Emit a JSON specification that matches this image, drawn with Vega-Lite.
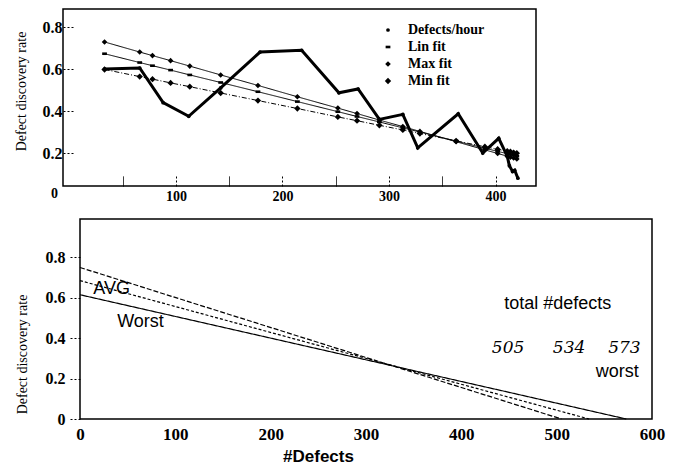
{
  "$schema": "https://vega.github.io/schema/vega-lite/v6.json",
  "padding": {"left": 13, "top": 8, "right": 5, "bottom": 0},
  "spacing": 14,
  "resolve": {"scale": {"strokeDash": "independent", "x": "independent", "y": "independent"}},
  "config": {
    "view": {"stroke": "black", "strokeWidth": 1.5},
    "font": "Liberation Serif",
    "axis": {"domain": false, "grid": false, "labelFlush": false, "labelFont": "Liberation Serif", "titleFont": "Liberation Serif", "labelColor": "black", "titleColor": "black", "tickColor": "black", "labelFontWeight": "bold", "titleFontWeight": "normal"}
  },
  "datasets": {
    "top": [
      {"series": "Defects/hour", "x": 33, "y": 0.600},
      {"series": "Defects/hour", "x": 66, "y": 0.605},
      {"series": "Defects/hour", "x": 88, "y": 0.440},
      {"series": "Defects/hour", "x": 112, "y": 0.375},
      {"series": "Defects/hour", "x": 142, "y": 0.510},
      {"series": "Defects/hour", "x": 179, "y": 0.681},
      {"series": "Defects/hour", "x": 218, "y": 0.689},
      {"series": "Defects/hour", "x": 253, "y": 0.487},
      {"series": "Defects/hour", "x": 271, "y": 0.505},
      {"series": "Defects/hour", "x": 291, "y": 0.360},
      {"series": "Defects/hour", "x": 313, "y": 0.384},
      {"series": "Defects/hour", "x": 327, "y": 0.225},
      {"series": "Defects/hour", "x": 365, "y": 0.387},
      {"series": "Defects/hour", "x": 388, "y": 0.200},
      {"series": "Defects/hour", "x": 403, "y": 0.270},
      {"series": "Defects/hour", "x": 411, "y": 0.185},
      {"series": "Defects/hour", "x": 413, "y": 0.140},
      {"series": "Defects/hour", "x": 416, "y": 0.112},
      {"series": "Defects/hour", "x": 418, "y": 0.118},
      {"series": "Defects/hour", "x": 421, "y": 0.080},
      {"series": "Max fit", "x": 33, "y": 0.729},
      {"series": "Max fit", "x": 66, "y": 0.681},
      {"series": "Max fit", "x": 78, "y": 0.664},
      {"series": "Max fit", "x": 95, "y": 0.640},
      {"series": "Max fit", "x": 113, "y": 0.614},
      {"series": "Max fit", "x": 142, "y": 0.572},
      {"series": "Max fit", "x": 177, "y": 0.522},
      {"series": "Max fit", "x": 214, "y": 0.468},
      {"series": "Max fit", "x": 252, "y": 0.414},
      {"series": "Max fit", "x": 270, "y": 0.388},
      {"series": "Max fit", "x": 291, "y": 0.357},
      {"series": "Max fit", "x": 313, "y": 0.326},
      {"series": "Max fit", "x": 329, "y": 0.303},
      {"series": "Max fit", "x": 363, "y": 0.254},
      {"series": "Max fit", "x": 390, "y": 0.215},
      {"series": "Max fit", "x": 402, "y": 0.198},
      {"series": "Max fit", "x": 411, "y": 0.185},
      {"series": "Max fit", "x": 414, "y": 0.180},
      {"series": "Max fit", "x": 417, "y": 0.176},
      {"series": "Max fit", "x": 420, "y": 0.172},
      {"series": "Lin fit", "x": 33, "y": 0.673},
      {"series": "Lin fit", "x": 66, "y": 0.631},
      {"series": "Lin fit", "x": 78, "y": 0.616},
      {"series": "Lin fit", "x": 95, "y": 0.595},
      {"series": "Lin fit", "x": 113, "y": 0.572},
      {"series": "Lin fit", "x": 142, "y": 0.536},
      {"series": "Lin fit", "x": 177, "y": 0.492},
      {"series": "Lin fit", "x": 214, "y": 0.445},
      {"series": "Lin fit", "x": 252, "y": 0.397},
      {"series": "Lin fit", "x": 270, "y": 0.374},
      {"series": "Lin fit", "x": 291, "y": 0.348},
      {"series": "Lin fit", "x": 313, "y": 0.320},
      {"series": "Lin fit", "x": 329, "y": 0.300},
      {"series": "Lin fit", "x": 363, "y": 0.257},
      {"series": "Lin fit", "x": 390, "y": 0.223},
      {"series": "Lin fit", "x": 402, "y": 0.208},
      {"series": "Lin fit", "x": 411, "y": 0.197},
      {"series": "Lin fit", "x": 414, "y": 0.193},
      {"series": "Lin fit", "x": 417, "y": 0.189},
      {"series": "Lin fit", "x": 420, "y": 0.185},
      {"series": "Min fit", "x": 33, "y": 0.598},
      {"series": "Min fit", "x": 66, "y": 0.564},
      {"series": "Min fit", "x": 78, "y": 0.552},
      {"series": "Min fit", "x": 95, "y": 0.534},
      {"series": "Min fit", "x": 113, "y": 0.516},
      {"series": "Min fit", "x": 142, "y": 0.486},
      {"series": "Min fit", "x": 177, "y": 0.450},
      {"series": "Min fit", "x": 214, "y": 0.412},
      {"series": "Min fit", "x": 252, "y": 0.372},
      {"series": "Min fit", "x": 270, "y": 0.354},
      {"series": "Min fit", "x": 291, "y": 0.332},
      {"series": "Min fit", "x": 313, "y": 0.310},
      {"series": "Min fit", "x": 329, "y": 0.293},
      {"series": "Min fit", "x": 363, "y": 0.258},
      {"series": "Min fit", "x": 390, "y": 0.230},
      {"series": "Min fit", "x": 402, "y": 0.218},
      {"series": "Min fit", "x": 411, "y": 0.209},
      {"series": "Min fit", "x": 414, "y": 0.206},
      {"series": "Min fit", "x": 417, "y": 0.202},
      {"series": "Min fit", "x": 420, "y": 0.199}
    ],
    "topzero": [{"x": -14, "y": 0.005, "t": "0"}],
    "empty": [],
    "bottom": [
      {"series": "505", "x": 0, "y": 0.750},
      {"series": "505", "x": 505, "y": 0},
      {"series": "534", "x": 0, "y": 0.685},
      {"series": "534", "x": 534, "y": 0},
      {"series": "573", "x": 0, "y": 0.615},
      {"series": "573", "x": 573, "y": 0}
    ],
    "sanslabels": [
      {"x": 14, "y": 0.645, "t": "AVG"},
      {"x": 39, "y": 0.48, "t": "Worst"},
      {"x": 445, "y": 0.571, "t": "total #defects"},
      {"x": 541, "y": 0.233, "t": "worst"}
    ],
    "numlabels": [
      {"x": 449, "y": 0.349, "t": "505"},
      {"x": 513, "y": 0.349, "t": "534"},
      {"x": 571, "y": 0.349, "t": "573"}
    ]
  },
  "vconcat": [
    {
      "width": 473,
      "height": 177,
      "data": {"name": "top"},
      "encoding": {
        "x": {"field": "x", "type": "quantitative", "scale": {"domain": [-6, 438], "nice": false, "zero": false},
          "axis": {"title": null, "values": [50, 100, 150, 200, 250, 300, 350, 400],
            "labelExpr": "datum.value % 100 == 0 ? datum.label : ''",
            "tickSize": -10,
            "tickDash": {"condition": {"test": "datum.value % 100 == 0", "value": [2, 2]}, "value": [1, 0]},
            "labelPadding": 13, "labelFont": "Liberation Serif", "labelFontSize": 14}},
        "y": {"field": "y", "type": "quantitative", "scale": {"domain": [0.043, 0.886], "nice": false, "zero": false},
          "axis": {"title": "Defect discovery rate", "values": [0.2, 0.4, 0.6, 0.8], "format": ".1f",
            "tickSize": -12, "tickDash": [2, 2], "labelPadding": 13, "labelFont": "Liberation Serif", "labelFontSize": 16,
            "titleFontSize": 14, "titleX": -42, "titleY": 82, "titleBaseline": "middle"}}
      },
      "layer": [
        {
          "transform": [{"filter": "datum.series != 'Defects/hour'"}],
          "mark": {"type": "line", "color": "black", "strokeWidth": 1},
          "encoding": {
            "detail": {"field": "series"},
            "strokeDash": {"field": "series", "legend": null,
              "scale": {"domain": ["Lin fit", "Max fit", "Min fit"], "range": [[1, 0], [1, 0], [5, 2, 1, 2]]}}
          }
        },
        {
          "transform": [{"filter": "datum.series == 'Defects/hour'"}],
          "mark": {"type": "line", "color": "black", "strokeWidth": 3},
          "encoding": {}
        },
        {
          "mark": {"type": "point", "filled": true, "color": "black", "opacity": 1},
          "encoding": {
            "shape": {"field": "series", "type": "nominal",
              "scale": {"domain": ["Defects/hour", "Lin fit", "Max fit", "Min fit"], "range": ["circle", "M-1,-0.55H1V0.55H-1Z", "diamond", "diamond"]},
              "legend": {"title": null, "orient": "none", "legendX": 318, "legendY": 14, "labelFont": "Liberation Serif", "labelFontSize": 14, "labelFontWeight": "bold", "labelColor": "black", "symbolFillColor": "black", "symbolStrokeColor": "black", "rowPadding": 3, "labelOffset": 13, "padding": 0}},
            "size": {"field": "series", "type": "nominal",
              "scale": {"domain": ["Defects/hour", "Lin fit", "Max fit", "Min fit"], "range": [14, 40, 60, 40]},
              "legend": {"title": null, "orient": "none", "legendX": 318, "legendY": 14, "labelFont": "Liberation Serif", "labelFontSize": 14, "labelFontWeight": "bold", "labelColor": "black", "symbolFillColor": "black", "symbolStrokeColor": "black", "rowPadding": 3, "labelOffset": 13, "padding": 0}}
          }
        },
        {
          "data": {"name": "topzero"},
          "mark": {"type": "text", "font": "Liberation Serif", "fontSize": 14, "fontWeight": "bold", "color": "black", "baseline": "middle", "align": "center"},
          "encoding": {"text": {"field": "t"}}
        }
      ]
    },
    {
      "spacing": -50,
      "resolve": {"scale": {"strokeDash": "independent", "x": "independent", "y": "independent"}},
      "hconcat": [
        {
          "width": 1,
          "height": 200,
          "view": {"stroke": null},
          "data": {"name": "empty"},
          "mark": {"type": "point", "opacity": 0},
          "encoding": {}
        },
        {
          "width": 572,
          "height": 200,
          "data": {"name": "bottom"},
          "encoding": {
            "x": {"field": "x", "type": "quantitative", "scale": {"domain": [0, 600], "nice": false},
              "axis": {"title": "#Defects", "values": [0, 100, 200, 300, 400, 500, 600], "ticks": false,
                "labelPadding": 7, "labelFont": "Liberation Serif", "labelFontSize": 17, "titleFont": "Liberation Sans", "titleFontSize": 17, "titleFontWeight": "bold",
                "titleX": 238, "titleY": 29, "titleBaseline": "top"}},
            "y": {"field": "y", "type": "quantitative", "scale": {"domain": [0, 0.99], "nice": false},
              "axis": {"title": "Defect discovery rate", "values": [0, 0.2, 0.4, 0.6, 0.8],
                "labelExpr": "datum.value == 0 ? '0' : format(datum.value, '.1f')",
                "tickSize": 10, "tickDash": [2, 2], "labelPadding": 5, "labelFont": "Liberation Serif", "labelFontSize": 16,
                "titleFontSize": 14, "titleX": -58, "titleY": 135, "titleBaseline": "middle"}}
          },
          "layer": [
            {
              "mark": {"type": "line", "color": "black", "strokeWidth": 1.2},
              "encoding": {
                "detail": {"field": "series"},
                "strokeDash": {"field": "series", "legend": null,
                  "scale": {"domain": ["505", "534", "573"], "range": [[5, 2], [3, 2], [1, 0]]}}
              }
            },
            {
              "data": {"name": "sanslabels"},
              "mark": {"type": "text", "font": "Liberation Sans", "fontSize": 18, "color": "black", "align": "left", "baseline": "middle"},
              "encoding": {"text": {"field": "t"}}
            },
            {
              "data": {"name": "numlabels"},
              "mark": {"type": "text", "font": "DejaVu Serif", "fontSize": 17, "fontStyle": "italic", "color": "black", "align": "center", "baseline": "middle"},
              "encoding": {"text": {"field": "t"}}
            }
          ]
        }
      ]
    }
  ]
}
